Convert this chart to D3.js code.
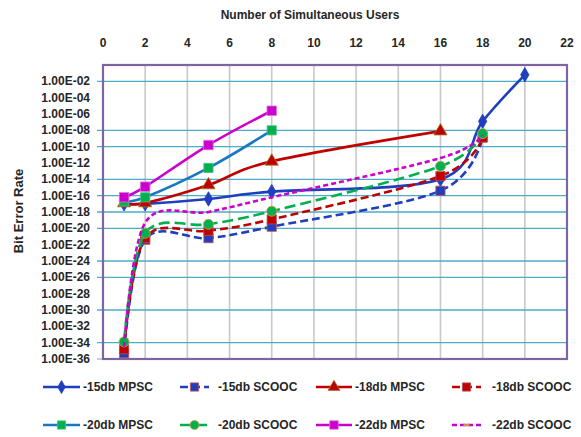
<!DOCTYPE html>
<html><head><meta charset="utf-8">
<script src="https://cdn.jsdelivr.net/npm/d3@7"></script>
<style>body{margin:0;background:#fff}</style>
</head><body><svg id="c" width="581" height="437"></svg>
<script>
// ---- data ----
const xTickValues = [0,2,4,6,8,10,12,14,16,18,20,22];
const yTickExponents = [-2,-4,-6,-8,-10,-12,-14,-16,-18,-20,-22,-24,-26,-28,-30,-32,-34,-36];
const gridExponents = [-2,-8,-10,-14,-16,-18,-20,-24,-26,-30,-34];
const seriesNames = ["-15db MPSC","-15db SCOOC","-18db MPSC","-18db SCOOC","-20db MPSC","-20db SCOOC","-22db MPSC","-22db SCOOC"];
const usersMPSC15 = [1,2,5,8,16,18,20];
const logBerMPSC15 = [-17.0,-17.0,-16.4,-15.5,-14.0,-6.9,-1.2];
const usersSCOOC = [1,2,5,8,16,18];
const logBerSCOOC15 = [-35.3,-21.4,-21.2,-19.8,-15.4,-8.8];
const usersMPSC18 = [1,2,5,8,16];
const logBerMPSC18 = [-16.9,-16.9,-14.7,-11.8,-8.1];
const logBerSCOOC18 = [-34.8,-21.2,-20.3,-18.9,-13.6,-8.9];
const usersMPSC2022 = [1,2,5,8];
const logBerMPSC20 = [-16.7,-16.2,-12.6,-8.0];
const logBerSCOOC20 = [-33.9,-20.6,-19.5,-17.9,-12.4,-8.4];
const logBerMPSC22 = [-16.2,-14.9,-9.8,-5.6];
const logBerSCOOC22 = [-34.5,-19.3,-18.0,-16.2,-11.4,-8.6];

const series = [
  {name:seriesNames[0], xs:usersMPSC15, ys:logBerMPSC15, color:"#1f3fbf", dash:null, sym:d3.symbolDiamond, size:60, mfill:"#1f3fbf", mstroke:"#1f3fbf"},
  {name:seriesNames[1], xs:usersSCOOC, ys:logBerSCOOC15, color:"#1f3fbf", dash:"8,4", sym:d3.symbolSquare, size:85, mfill:"#1f3fbf", mstroke:"#c0504d"},
  {name:seriesNames[2], xs:usersMPSC18, ys:logBerMPSC18, color:"#c00000", dash:null, sym:d3.symbolTriangle, size:75, mfill:"#c00000", mstroke:"#9a7a20"},
  {name:seriesNames[3], xs:usersSCOOC, ys:logBerSCOOC18, color:"#c00000", dash:"8,4", sym:d3.symbolSquare, size:85, mfill:"#c00000", mstroke:"#b05050"},
  {name:seriesNames[4], xs:usersMPSC2022, ys:logBerMPSC20, color:"#1a78c2", dash:null, sym:d3.symbolSquare, size:85, mfill:"#00b050", mstroke:"#4cc080"},
  {name:seriesNames[5], xs:usersSCOOC, ys:logBerSCOOC20, color:"#00b050", dash:"11,5", sym:d3.symbolCircle, size:80, mfill:"#00b050", mstroke:"#e0a040"},
  {name:seriesNames[6], xs:usersMPSC2022, ys:logBerMPSC22, color:"#cc00cc", dash:null, sym:d3.symbolSquare, size:90, mfill:"#cc00cc", mstroke:"#e070e0"},
  {name:seriesNames[7], xs:usersSCOOC, ys:logBerSCOOC22, color:"#cc00cc", dash:"5,3", sym:null, size:0, mfill:"none", mstroke:"none"}
];

// ---- chart ----
const svg = d3.select("#c");
const font = "'Liberation Sans', Arial, sans-serif";
const txt = "#262626";
const x = d3.scaleLinear().domain([0,22]).range([103,567]);
const y = d3.scaleLog().domain([1,1e-36]).range([65,359]);

// vertical gridlines
svg.append("g").selectAll("line").data(xTickValues.filter(v=>v>0 && v<22)).join("line")
  .attr("x1",d=>x(d)).attr("x2",d=>x(d)).attr("y1",y(1)).attr("y2",y(1e-36))
  .attr("stroke","#c8c8c8").attr("stroke-width",1.6);
// horizontal gridlines
svg.append("g").selectAll("line").data(gridExponents).join("line")
  .attr("x1",x(0)-6).attr("x2",x(22)).attr("y1",d=>y(Math.pow(10,d))).attr("y2",d=>y(Math.pow(10,d)))
  .attr("stroke","#4bacc6").attr("stroke-width",1.3);
// ticks at bottom of axis
svg.append("line").attr("x1",x(0)-6).attr("x2",x(0)).attr("y1",y(1e-36)).attr("y2",y(1e-36)).attr("stroke","#999");

// border
svg.append("rect").attr("x",x(0)).attr("y",y(1)).attr("width",x(22)-x(0)).attr("height",y(1e-36)-y(1))
  .attr("fill","none").attr("stroke","#8064a2").attr("stroke-width",2.2);

// top axis labels
svg.append("g").selectAll("text").data(xTickValues).join("text")
  .attr("x",d=>x(d)).attr("y",47).attr("text-anchor","middle")
  .attr("font-family",font).attr("font-weight","bold").attr("font-size",12).attr("fill",txt)
  .text(d=>d);
// left axis labels
svg.append("g").selectAll("text").data(yTickExponents).join("text")
  .attr("x",90).attr("y",d=>y(Math.pow(10,d))+4).attr("text-anchor","end")
  .attr("font-family",font).attr("font-weight","bold").attr("font-size",12).attr("fill",txt)
  .text(d=>"1.00E-"+String(-d).padStart(2,"0"));
// titles
svg.append("text").attr("x",310).attr("y",19).attr("text-anchor","middle")
  .attr("font-family",font).attr("font-weight","bold").attr("font-size",12).attr("fill",txt)
  .text("Number of Simultaneous Users");
svg.append("text").attr("transform","translate(23,211) rotate(-90)").attr("text-anchor","middle")
  .attr("font-family",font).attr("font-weight","bold").attr("font-size",13).attr("fill",txt)
  .text("Bit Error Rate");

// series
const line = d3.line().curve(d3.curveCatmullRom.alpha(0)).x(d=>x(d[0])).y(d=>y(Math.pow(10,d[1])));
const gS = svg.append("g");
series.forEach(s=>{
  const pts = s.xs.map((v,i)=>[v,s.ys[i]]);
  gS.append("path").datum(pts).attr("d",line).attr("fill","none")
    .attr("stroke",s.color).attr("stroke-width",2.6)
    .attr("stroke-dasharray",s.dash);
  if (s.sym) {
    gS.append("g").selectAll("path").data(pts).join("path")
      .attr("transform",d=>`translate(${x(d[0])},${y(Math.pow(10,d[1]))})`)
      .attr("d",d3.symbol().type(s.sym).size(s.size))
      .attr("fill",s.mfill).attr("stroke",s.mstroke).attr("stroke-width",0.8);
  }
});

// legend
const legCols = [{x1:43,x2:80,tx:83},{x1:180,x2:209,tx:218},{x1:316,x2:352,tx:355},{x1:452,x2:481,tx:492}];
const legRows = [387,425];
series.forEach((s,i)=>{
  const c = legCols[i%4], r = legRows[Math.floor(i/4)];
  const g = svg.append("g");
  g.append("line").attr("x1",c.x1).attr("x2",c.x2).attr("y1",r).attr("y2",r)
    .attr("stroke",s.color).attr("stroke-width",2.6).attr("stroke-dasharray",s.dash);
  if (s.sym) {
    g.append("path").attr("transform",`translate(${(c.x1+c.x2)/2},${r})`)
      .attr("d",d3.symbol().type(s.sym).size(s.size*0.8))
      .attr("fill",s.mfill).attr("stroke",s.mstroke).attr("stroke-width",0.8);
  } else {
    g.append("line").attr("x1",(c.x1+c.x2)/2-3).attr("x2",(c.x1+c.x2)/2+3).attr("y1",r).attr("y2",r)
      .attr("stroke","#c09060").attr("stroke-width",2.6);
  }
  g.append("text").attr("x",c.tx).attr("y",r+4)
    .attr("font-family",font).attr("font-weight","bold").attr("font-size",12).attr("fill",txt)
    .text(s.name);
});
</script></body></html>
